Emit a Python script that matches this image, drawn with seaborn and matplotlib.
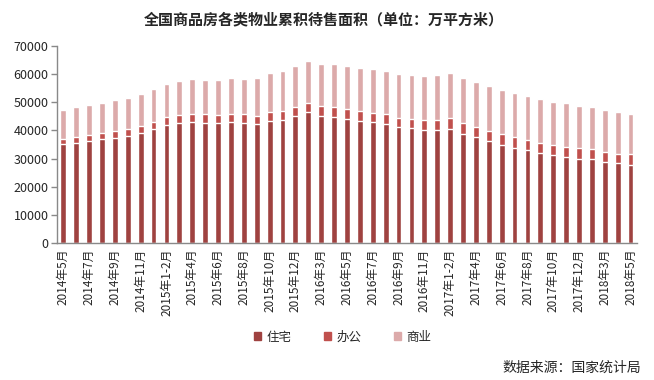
import numpy as np
import pandas as pd
import matplotlib
matplotlib.use('Agg')
import matplotlib.pyplot as plt
from matplotlib.patches import Patch
import seaborn as sns

# months (Jan-Feb combined from 2015 on)
months = (['2014年%d月' % m for m in range(5, 13)] +
          ['2015年1-2月'] + ['2015年%d月' % m for m in range(3, 13)] +
          ['2016年1-2月'] + ['2016年%d月' % m for m in range(3, 13)] +
          ['2017年1-2月'] + ['2017年%d月' % m for m in range(3, 13)] +
          ['2018年1-2月'] + ['2018年%d月' % m for m in range(3, 6)])

# cumulative tops (万平方米)
residential = [35240, 35600, 36300, 37000, 37370, 38070, 39140, 40560,
               41980, 42690, 43040, 42690, 42690, 43040, 42690, 42330, 43400, 43750, 45170,
               46590, 45170, 44810, 44100, 43400, 43040, 42330, 41270, 40910, 40200, 40200,
               40560, 38780, 37720, 36300, 34880, 33820, 33110, 32040, 31330, 30630, 29920,
               29920, 28850, 28500, 27790]
res_office = [37000, 37700, 38430, 39140, 39850, 40560, 41620, 43040,
              44810, 45520, 45880, 45880, 45520, 45880, 45880, 45170, 46590, 46940, 48360,
              49780, 48720, 48360, 47650, 46940, 46230, 45880, 44460, 44100, 43750, 43750,
              44460, 42690, 41270, 39850, 38780, 37720, 36660, 35590, 34880, 34170, 33820,
              33460, 32400, 31690, 31690]
total = [47300, 48360, 49070, 49780, 50840, 51550, 52970, 54750,
         56520, 57590, 58290, 57940, 57940, 58650, 58290, 58650, 60420, 61130, 62900,
         64680, 63620, 63620, 62900, 62200, 61840, 61130, 60070, 59710, 59360, 59710,
         60420, 58650, 57230, 55810, 54390, 53330, 52260, 51200, 50140, 49780, 48720,
         48360, 47300, 46590, 45880]

c_res = '#9F4240'
c_off = '#C0504D'
c_com = '#DCAAAA'

df = pd.DataFrame({'month': months, 'res': residential,
                   'res_off': res_office, 'total': total})

sns.set_style('white')
plt.rcParams['font.family'] = ['Noto Sans CJK SC', 'DejaVu Sans']

fig = plt.figure(figsize=(6.54, 3.80), dpi=100)
ax = fig.add_axes([0.087, 0.3605, 0.887, 0.5185])

# overlay cumulative bars to get the stacked look
sns.barplot(data=df, x='month', y='total', color=c_com, width=0.45,
            saturation=1, ax=ax)
sns.barplot(data=df, x='month', y='res_off', color=c_off, width=0.45,
            saturation=1, ax=ax)
sns.barplot(data=df, x='month', y='res', color=c_res, width=0.45,
            saturation=1, ax=ax)

ax.set_xlim(-0.5, len(months) - 0.5)
ax.set_ylim(0, 70000)
ax.set_yticks(range(0, 70001, 10000))
ax.set_xlabel('')
ax.set_ylabel('')

for s in ['top', 'right']:
    ax.spines[s].set_visible(False)
for s in ['left', 'bottom']:
    ax.spines[s].set_color('#898989')
    ax.spines[s].set_linewidth(1)

# ticks between categories, labels on every other bar
ax.set_xticks(np.arange(-0.5, len(months), 1), minor=True)
ax.set_xticks(range(0, len(months), 2))
ax.set_xticklabels(months[::2], rotation=90, fontsize=8.5)
ax.tick_params(axis='x', which='major', length=0, pad=4)
ax.tick_params(axis='x', which='minor', length=4, color='#898989', width=1)
ax.tick_params(axis='y', length=4, color='#898989', width=1, labelsize=9, pad=2, left=True)

fig.text(0.495, 0.95, '全国商品房各类物业累积待售面积（单位：万平方米）',
         ha='center', va='center', fontsize=10.8, fontweight='bold')

handles = [Patch(color=c_res, label='住宅'), Patch(color=c_off, label='办公'),
           Patch(color=c_com, label='商业')]
fig.legend(handles=handles, loc='center', bbox_to_anchor=(0.524, 0.113), ncol=3,
           frameon=False, fontsize=9, handlelength=0.6, handleheight=0.6,
           handletextpad=0.4, columnspacing=2.6)

fig.text(0.98, 0.032, '数据来源：国家统计局', ha='right', va='center', fontsize=10)

fig.savefig('out.png', dpi=100)
